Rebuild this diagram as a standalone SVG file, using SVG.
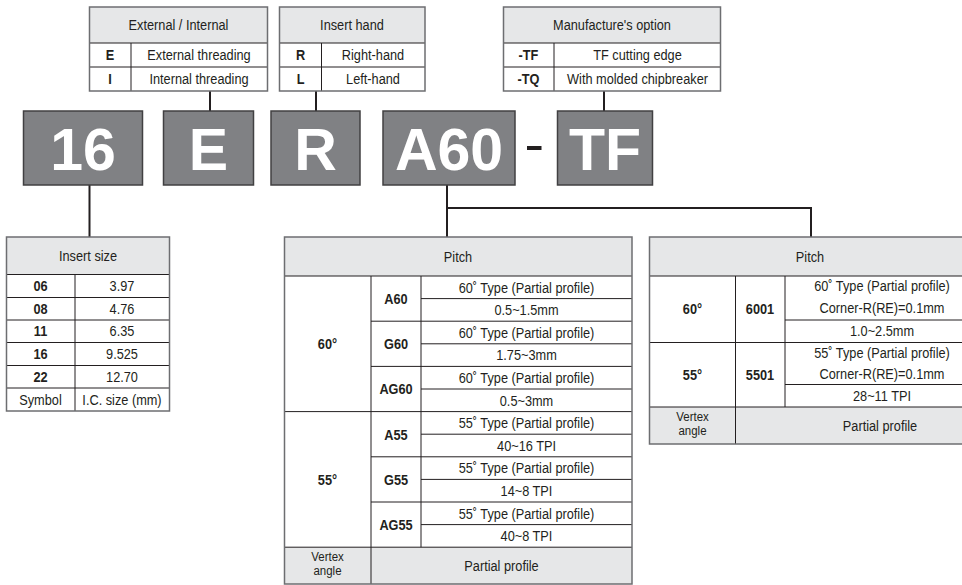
<svg xmlns="http://www.w3.org/2000/svg" width="962" height="585" viewBox="0 0 962 585">
<style>
.t{font-family:"Liberation Sans",Arial,sans-serif;font-size:15px;fill:#231f20;text-anchor:middle;transform-box:fill-box;transform-origin:center;transform:scaleX(0.85)}
.b{font-weight:bold}
.s{font-size:13.5px}
.hd{fill:#e6e7e8}
.cell{fill:#ffffff}
.ln{stroke:#231f20;stroke-width:1;fill:none}
.out{fill:none;stroke:#6d6e71;stroke-width:1.5}
.box{fill:#808184;stroke:#414042;stroke-width:1.5}
.code{font-family:"Liberation Sans",Arial,sans-serif;font-weight:bold;font-size:59px;fill:#ffffff;text-anchor:middle}
.con{stroke:#231f20;stroke-width:2;fill:none}
</style>
<rect width="962" height="585" fill="#ffffff"/>

<g id="connectors">
<line class="con" x1="210" y1="91" x2="210" y2="111"/>
<line class="con" x1="316" y1="91" x2="316" y2="111"/>
<line class="con" x1="604" y1="91" x2="604" y2="111"/>
<line class="con" x1="89.5" y1="185" x2="89.5" y2="237"/>
<polyline class="con" points="447,185 447,237"/>
<polyline class="con" points="446,208 811,208 811,237"/>
</g>

<g id="table-external-internal">
<rect class="hd" x="89.5" y="7" width="178" height="36"/>
<rect class="cell" x="89.5" y="43" width="178" height="48"/>
<line class="ln" x1="89.5" y1="43" x2="267.5" y2="43"/>
<line class="ln" x1="89.5" y1="67" x2="267.5" y2="67"/>
<line class="ln" x1="131" y1="43" x2="131" y2="91"/>
<rect class="out" x="89.5" y="7" width="178" height="84"/>
<text class="t" x="178.5" y="30.5">External / Internal</text>
<text class="t b" x="110" y="60.5">E</text>
<text class="t" x="199" y="60.5">External threading</text>
<text class="t b" x="110" y="84.5">I</text>
<text class="t" x="199" y="84.5">Internal threading</text>
</g>

<g id="table-insert-hand">
<rect class="hd" x="279.5" y="7" width="145.5" height="36"/>
<rect class="cell" x="279.5" y="43" width="145.5" height="48"/>
<line class="ln" x1="279.5" y1="43" x2="425" y2="43"/>
<line class="ln" x1="279.5" y1="67" x2="425" y2="67"/>
<line class="ln" x1="321.5" y1="43" x2="321.5" y2="91"/>
<rect class="out" x="279.5" y="7" width="145.5" height="84"/>
<text class="t" x="352" y="30.5">Insert hand</text>
<text class="t b" x="300.5" y="60.5">R</text>
<text class="t" x="373" y="60.5">Right-hand</text>
<text class="t b" x="300.5" y="84.5">L</text>
<text class="t" x="373" y="84.5">Left-hand</text>
</g>

<g id="table-manufacture-option">
<rect class="hd" x="503.5" y="7" width="217" height="36"/>
<rect class="cell" x="503.5" y="43" width="217" height="48"/>
<line class="ln" x1="503.5" y1="43" x2="720.5" y2="43"/>
<line class="ln" x1="503.5" y1="67" x2="720.5" y2="67"/>
<line class="ln" x1="554" y1="43" x2="554" y2="91"/>
<rect class="out" x="503.5" y="7" width="217" height="84"/>
<text class="t" x="612" y="30.5">Manufacture's option</text>
<text class="t b" x="528.5" y="60.5">-TF</text>
<text class="t" x="637.5" y="60.5">TF cutting edge</text>
<text class="t b" x="528.5" y="84.5">-TQ</text>
<text class="t" x="637.5" y="84.5">With molded chipbreaker</text>
</g>

<g id="code-16">
<rect class="box" x="23.5" y="111" width="119" height="74"/>
<text class="code" x="83" y="170">16</text>
</g>
<g id="code-E">
<rect class="box" x="163.5" y="111" width="90" height="74"/>
<text class="code" x="208.5" y="170">E</text>
</g>
<g id="code-R">
<rect class="box" x="271" y="111" width="89" height="74"/>
<text class="code" x="315.5" y="170">R</text>
</g>
<g id="code-A60">
<rect class="box" x="383" y="111" width="132" height="74"/>
<text class="code" x="449" y="170">A60</text>
</g>
<g id="code-dash">
<rect x="527" y="146" width="14.5" height="4" fill="#231f20"/>
</g>
<g id="code-TF">
<rect class="box" x="557.5" y="111" width="95" height="74"/>
<text class="code" x="605" y="170">TF</text>
</g>

<g id="table-insert-size">
<rect class="hd" x="6.5" y="237" width="163" height="37.5"/>
<rect class="cell" x="6.5" y="274.5" width="163" height="136.5"/>
<line class="ln" x1="6.5" y1="274.5" x2="169.5" y2="274.5"/>
<line class="ln" x1="6.5" y1="297.5" x2="169.5" y2="297.5"/>
<line class="ln" x1="6.5" y1="320" x2="169.5" y2="320"/>
<line class="ln" x1="6.5" y1="342.5" x2="169.5" y2="342.5"/>
<line class="ln" x1="6.5" y1="365.5" x2="169.5" y2="365.5"/>
<line class="ln" x1="6.5" y1="388" x2="169.5" y2="388"/>
<line class="ln" x1="75" y1="274.5" x2="75" y2="411"/>
<rect class="out" x="6.5" y="237" width="163" height="174"/>
<text class="t" x="88" y="261">Insert size</text>
<text class="t b" x="40.5" y="291.3">06</text><text class="t" x="122" y="291.3">3.97</text>
<text class="t b" x="40.5" y="314">08</text><text class="t" x="122" y="314">4.76</text>
<text class="t b" x="40.5" y="336.5">11</text><text class="t" x="122" y="336.5">6.35</text>
<text class="t b" x="40.5" y="359.3">16</text><text class="t" x="122" y="359.3">9.525</text>
<text class="t b" x="40.5" y="382">22</text><text class="t" x="122" y="382">12.70</text>
<text class="t" x="40.5" y="404.8">Symbol</text><text class="t" x="122" y="404.8">I.C. size (mm)</text>
</g>

<g id="table-pitch-partial">
<rect class="hd" x="284.5" y="237" width="347.5" height="39"/>
<rect class="cell" x="284.5" y="276" width="347.5" height="271.2"/>
<rect class="hd" x="284.5" y="547.2" width="347.5" height="37"/>
<line class="ln" x1="284.5" y1="276" x2="632" y2="276"/>
<line class="ln" x1="421" y1="298.6" x2="632" y2="298.6"/>
<line class="ln" x1="371" y1="321.2" x2="632" y2="321.2"/>
<line class="ln" x1="421" y1="343.8" x2="632" y2="343.8"/>
<line class="ln" x1="371" y1="366.4" x2="632" y2="366.4"/>
<line class="ln" x1="421" y1="389" x2="632" y2="389"/>
<line class="ln" x1="284.5" y1="411.6" x2="632" y2="411.6"/>
<line class="ln" x1="421" y1="434.2" x2="632" y2="434.2"/>
<line class="ln" x1="371" y1="456.8" x2="632" y2="456.8"/>
<line class="ln" x1="421" y1="479.4" x2="632" y2="479.4"/>
<line class="ln" x1="371" y1="502" x2="632" y2="502"/>
<line class="ln" x1="421" y1="524.6" x2="632" y2="524.6"/>
<line class="ln" x1="284.5" y1="547.2" x2="632" y2="547.2"/>
<line class="ln" x1="371" y1="276" x2="371" y2="584"/>
<line class="ln" x1="421" y1="276" x2="421" y2="547.2"/>
<rect class="out" x="284.5" y="237" width="347.5" height="347"/>
<text class="t" x="458" y="262">Pitch</text>
<text class="t b" x="327.5" y="349">60°</text>
<text class="t b" x="327.5" y="484.7">55°</text>
<text class="t b" x="396" y="304">A60</text>
<text class="t b" x="396" y="349.2">G60</text>
<text class="t b" x="396" y="394.4">AG60</text>
<text class="t b" x="396" y="439.6">A55</text>
<text class="t b" x="396" y="484.8">G55</text>
<text class="t b" x="396" y="530">AG55</text>
<text class="t" x="526.5" y="292.6">60˚ Type (Partial profile)</text>
<text class="t" x="526.5" y="315.2">0.5~1.5mm</text>
<text class="t" x="526.5" y="337.8">60˚ Type (Partial profile)</text>
<text class="t" x="526.5" y="360.4">1.75~3mm</text>
<text class="t" x="526.5" y="383">60˚ Type (Partial profile)</text>
<text class="t" x="526.5" y="405.6">0.5~3mm</text>
<text class="t" x="526.5" y="428.2">55˚ Type (Partial profile)</text>
<text class="t" x="526.5" y="450.8">40~16 TPI</text>
<text class="t" x="526.5" y="473.4">55˚ Type (Partial profile)</text>
<text class="t" x="526.5" y="496">14~8 TPI</text>
<text class="t" x="526.5" y="518.6">55˚ Type (Partial profile)</text>
<text class="t" x="526.5" y="541.2">40~8 TPI</text>
<text class="t s" x="327.5" y="561">Vertex</text>
<text class="t s" x="327.5" y="575">angle</text>
<text class="t" x="501.5" y="571">Partial profile</text>
</g>

<g id="table-pitch-corner">
<rect class="hd" x="649.5" y="237" width="325" height="39"/>
<rect class="cell" x="649.5" y="276" width="325" height="131"/>
<rect class="hd" x="649.5" y="407" width="325" height="37"/>
<line class="ln" x1="649.5" y1="276" x2="975" y2="276"/>
<line class="ln" x1="785" y1="320" x2="975" y2="320"/>
<line class="ln" x1="649.5" y1="342.5" x2="975" y2="342.5"/>
<line class="ln" x1="785" y1="384.5" x2="975" y2="384.5"/>
<line class="ln" x1="649.5" y1="407" x2="975" y2="407"/>
<line class="ln" x1="735.5" y1="276" x2="735.5" y2="444"/>
<line class="ln" x1="785" y1="276" x2="785" y2="407"/>
<rect class="out" x="649.5" y="237" width="325" height="207"/>
<text class="t" x="810" y="262">Pitch</text>
<text class="t b" x="692.5" y="314.5">60°</text>
<text class="t b" x="760" y="314.5">6001</text>
<text class="t" x="882" y="291.5">60˚ Type (Partial profile)</text>
<text class="t" x="882" y="313">Corner-R(RE)=0.1mm</text>
<text class="t" x="882" y="336.5">1.0~2.5mm</text>
<text class="t b" x="692.5" y="380">55°</text>
<text class="t b" x="760" y="380">5501</text>
<text class="t" x="882" y="358">55˚ Type (Partial profile)</text>
<text class="t" x="882" y="379.5">Corner-R(RE)=0.1mm</text>
<text class="t" x="882" y="401">28~11 TPI</text>
<text class="t s" x="692.5" y="421">Vertex</text>
<text class="t s" x="692.5" y="435">angle</text>
<text class="t" x="880" y="431">Partial profile</text>
</g>
</svg>
